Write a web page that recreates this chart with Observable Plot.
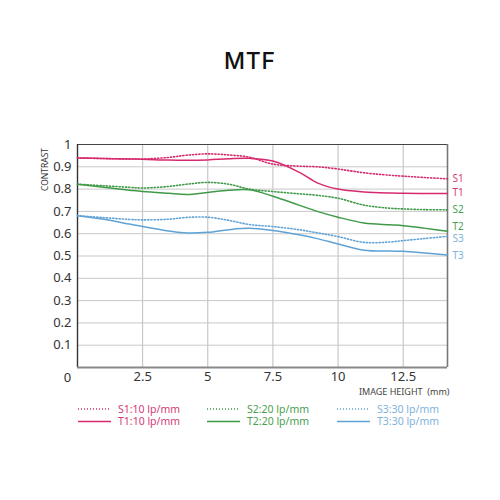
<!DOCTYPE html>
<html>
<head>
<meta charset="utf-8">
<script src="https://cdn.jsdelivr.net/npm/d3@7"></script>
<script src="https://cdn.jsdelivr.net/npm/@observablehq/plot@0.6"></script>
<style>
  html, body { margin: 0; padding: 0; background: #fff; }
  #wrap { position: relative; width: 500px; height: 500px; font-family: "Noto Sans", Lato, sans-serif; }
  #title { position: absolute; left: 0; top: 47px; width: 500px; text-align: center; font-family: Inter, "Noto Sans", sans-serif; font-size: 23px; font-weight: 500; color: #111; letter-spacing: 0.8px; }
  #chart { position: absolute; left: 0; top: 0; }
  #legend { position: absolute; left: 0; top: 401px; width: 500px; }
</style>
</head>
<body>
<div id="wrap">
  <div id="chart"></div>
  <div id="title">MTF</div>
  <div id="legend"></div>
</div>
<script>
// Data (image height in mm, contrast)
const xs   = [0,   1,     2,     2.5,   3.5,   4.2,   5,     5.8,   6.6,   7.5,   8.5,   9.2,   10,    11,    12,    12.5,  13.3,  14.2];
const s1   = [0.94,0.937, 0.935, 0.935, 0.942, 0.952, 0.958, 0.953, 0.943, 0.912, 0.903, 0.9,   0.89,  0.873, 0.862, 0.858, 0.852, 0.846];
const t1   = [0.94,0.937, 0.935, 0.934, 0.93,  0.929, 0.931, 0.936, 0.938, 0.926, 0.876, 0.828, 0.80,  0.787, 0.782, 0.781, 0.78,  0.78];
const s2   = [0.822,0.815,0.808, 0.805, 0.812, 0.822, 0.83,  0.822, 0.8,   0.789, 0.779, 0.772, 0.759, 0.728, 0.714, 0.711, 0.708, 0.707];
const t2   = [0.822,0.808,0.795, 0.789, 0.781, 0.776, 0.785, 0.795, 0.797, 0.768, 0.728, 0.70,  0.674, 0.648, 0.64,  0.636, 0.625, 0.611];
const s3   = [0.681,0.672,0.664, 0.662, 0.665, 0.673, 0.674, 0.66,  0.641, 0.632, 0.618, 0.604, 0.587, 0.561, 0.563, 0.569, 0.578, 0.588];
const t3   = [0.681,0.665,0.643, 0.632, 0.612, 0.603, 0.606, 0.618, 0.624, 0.614, 0.595, 0.578, 0.554, 0.526, 0.522, 0.521, 0.514, 0.505];

const seriesNames  = ["S1", "T1", "S2", "T2", "S3", "T3"];
const seriesValues = [s1, t1, s2, t2, s3, t3];
const seriesColors = ["#d62a6e", "#d62a6e", "#3f9a47", "#3f9a47", "#5fa3d6", "#5fa3d6"];
const labelColors  = ["#d63a78", "#d63a78", "#4aa04f", "#4aa04f", "#7fb3dd", "#7fb3dd"];
const seriesDashed = [true, false, true, false, true, false];
const legendLabels = ["S1:10 lp/mm", "T1:10 lp/mm", "S2:20 lp/mm", "T2:20 lp/mm", "S3:30 lp/mm", "T3:30 lp/mm"];
const labelNudge   = [0, 0, 0, -4.5, 3, 1];

const xTicks = [2.5, 5, 7.5, 10, 12.5];
const yTicks = [0.1, 0.2, 0.3, 0.4, 0.5, 0.6, 0.7, 0.8, 0.9, 1];
const xMax = 14.2;

const rows = [];
seriesNames.forEach((name, i) => {
  xs.forEach((x, j) => rows.push({series: name, x, y: seriesValues[i][j], i}));
});

const lineMarks = seriesNames.map((name, i) =>
  Plot.line(rows.filter(d => d.series === name), {
    x: "x", y: "y", curve: "catmull-rom",
    stroke: seriesColors[i],
    strokeWidth: seriesDashed[i] ? 1.6 : 1.5,
    strokeDasharray: seriesDashed[i] ? "1.2,2" : null
  })
);

const labelMarks = seriesNames.map((name, i) =>
  Plot.text([{series: name, x: xMax, y: seriesValues[i][seriesValues[i].length - 1]}], {
    x: "x", y: "y", text: "series", dx: 5, dy: labelNudge[i],
    textAnchor: "start", fontSize: 10, lineHeight: 0.9, fill: labelColors[i]
  })
);

const chart = Plot.plot({
  width: 500,
  height: 500,
  marginLeft: 77,
  marginRight: 53,
  marginTop: 144,
  marginBottom: 133,
  style: {fontFamily: "Noto Sans, Lato, sans-serif", background: "transparent"},
  x: {domain: [0, xMax], ticks: xTicks, tickSize: 0, tickPadding: 4, tickFormat: d => String(d), label: null},
  y: {domain: [0, 1], ticks: yTicks, tickSize: 0, tickPadding: 6, tickFormat: d => String(d), label: null},
  marks: [
    Plot.gridX(xTicks, {stroke: "#bdbdbd", strokeOpacity: 1, strokeWidth: 1}),
    Plot.gridY(yTicks.filter(d => d < 1), {stroke: "#c8c8c8", strokeOpacity: 1, strokeWidth: 1}),
    Plot.ruleY([1], {stroke: "#444", strokeWidth: 1.2}),
    Plot.ruleX([xMax], {stroke: "#777", strokeWidth: 1.6}),
    Plot.ruleX([0], {stroke: "#333", strokeWidth: 1.4}),
    Plot.ruleY([0], {stroke: "#888", strokeWidth: 2.2}),
    Plot.axisX(xTicks, {tickSize: 0, tickPadding: 4, fontSize: 13, fill: "#333", tickFormat: d => String(d), label: null}),
    Plot.axisY(yTicks, {tickSize: 0, tickPadding: 6, fontSize: 13, fill: "#333", tickFormat: d => String(d), label: null}),
    Plot.text([{x: 0, y: 0}], {x: "x", y: "y", text: () => "0", dx: -10, dy: 10, fontSize: 13, fill: "#333"}),
    Plot.text(["CONTRAST"], {frameAnchor: "top-left", text: d => d, rotate: -90, dx: -36, dy: 25, fontSize: 8.5, fill: "#333", textAnchor: "middle"}),
    Plot.text(["IMAGE HEIGHT  (mm)"], {frameAnchor: "bottom-right", text: d => d, dx: 2, dy: 27, fontSize: 9, fill: "#444", textAnchor: "end"}),
    ...lineMarks,
    ...labelMarks
  ]
});
chart.style.display = "block";
document.getElementById("chart").appendChild(chart);

// Legend (HTML + small SVG line samples)
const legendCols = [[0, 1], [2, 3], [4, 5]];
const colLeft = [78, 207, 337];
const legend = document.getElementById("legend");
const ns = "http://www.w3.org/2000/svg";
const svg = document.createElementNS(ns, "svg");
svg.setAttribute("width", 500);
svg.setAttribute("height", 30);
svg.style.display = "block";
legendCols.forEach((col, c) => {
  col.forEach((i, r) => {
    const y = 8 + r * 12.5;
    const line = document.createElementNS(ns, "line");
    line.setAttribute("x1", colLeft[c]);
    line.setAttribute("x2", colLeft[c] + 33);
    line.setAttribute("y1", y);
    line.setAttribute("y2", y);
    line.setAttribute("stroke", seriesColors[i]);
    line.setAttribute("stroke-width", seriesDashed[i] ? 1.3 : 1.5);
    if (seriesDashed[i]) line.setAttribute("stroke-dasharray", "1,2");
    svg.appendChild(line);
    const t = document.createElementNS(ns, "text");
    t.setAttribute("x", colLeft[c] + 40);
    t.setAttribute("y", y + 3.6);
    t.setAttribute("fill", labelColors[i]);
    t.setAttribute("font-size", "10.5");
    t.setAttribute("font-family", "Noto Sans, Lato, sans-serif");
    t.textContent = legendLabels[i];
    svg.appendChild(t);
  });
});
legend.appendChild(svg);
</script>
</body>
</html>
